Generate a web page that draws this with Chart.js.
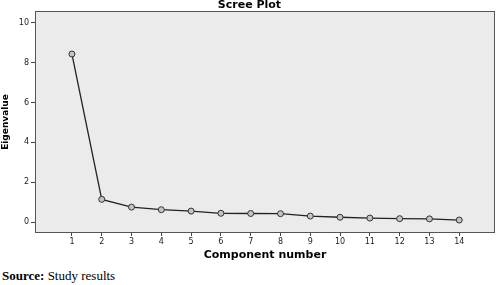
<!DOCTYPE html>
<html>
<head>
<meta charset="utf-8">
<script src="https://cdn.jsdelivr.net/npm/chart.js@4.4.0/dist/chart.umd.min.js"></script>
<style>
  body { margin: 0; background: #fff; }
  #wrap { width: 500px; height: 262px; position: relative; }
  #source { font-family: "Liberation Serif", "DejaVu Serif", serif; font-size: 13px; margin: 6px 0 0 2px; color: #000; }
</style>
</head>
<body>
<div id="wrap"><canvas id="scree"></canvas></div>
<div id="source"><b>Source:</b> Study results</div>
<script>
// component numbers and eigenvalues
const components = [1, 2, 3, 4, 5, 6, 7, 8, 9, 10, 11, 12, 13, 14];
const eigenvalues = [8.44, 1.14, 0.75, 0.62, 0.55, 0.44, 0.43, 0.42, 0.30, 0.24, 0.20, 0.17, 0.16, 0.10];
const yTicks = [0, 2, 4, 6, 8, 10];

const plotFrame = {
  id: 'plotFrame',
  beforeDraw(chart) {
    const { ctx, chartArea: a } = chart;
    ctx.save();
    ctx.fillStyle = '#ebebeb';
    ctx.fillRect(a.left, a.top, a.right - a.left, a.bottom - a.top);
    ctx.restore();
  },
  afterDraw(chart) {
    const { ctx, chartArea: a } = chart;
    ctx.save();
    ctx.strokeStyle = '#555';
    ctx.lineWidth = 1;
    ctx.strokeRect(a.left + 0.5, a.top + 0.5, a.right - a.left - 1, a.bottom - a.top - 1);
    ctx.restore();
  }
};

const font = { family: 'DejaVu Sans', size: 8 };

new Chart(document.getElementById('scree').getContext('2d'), {
  type: 'line',
  data: {
    datasets: [{
      data: components.map((c, i) => ({ x: c, y: eigenvalues[i] })),
      borderColor: '#222',
      borderWidth: 1.3,
      pointRadius: 3,
      pointBorderWidth: 1,
      pointBorderColor: '#333',
      pointBackgroundColor: '#c4c4c4',
      tension: 0
    }]
  },
  options: {
    responsive: true,
    maintainAspectRatio: false,
    animation: false,
    layout: { padding: { left: 0, right: 1, top: 0, bottom: 0 } },
    plugins: {
      legend: { display: false },
      tooltip: { enabled: false },
      title: {
        display: true,
        text: 'Scree Plot',
        color: '#000',
        font: { family: 'DejaVu Sans', size: 11, weight: 'bold', lineHeight: 1.0 },
        padding: { top: 0, bottom: 0 }
      }
    },
    scales: {
      x: {
        type: 'linear',
        min: -0.24,
        max: 15.2,
        afterBuildTicks: axis => { axis.ticks = components.map(v => ({ value: v })); },
        afterFit: axis => { axis.height = 29; },
        grid: { drawOnChartArea: false, drawTicks: true, tickLength: 3, color: '#444' },
        border: { display: false },
        ticks: { color: '#222', font, padding: 1, maxRotation: 0, autoSkip: false },
        title: {
          display: true,
          text: 'Component number',
          color: '#000',
          font: { family: 'DejaVu Sans', size: 11, weight: 'bold' },
          padding: { top: 0, bottom: 0 }
        }
      },
      y: {
        min: -0.55,
        max: 10.6,
        afterBuildTicks: axis => { axis.ticks = yTicks.map(v => ({ value: v })); },
        afterFit: axis => { axis.width = 35; },
        grid: { drawOnChartArea: false, drawTicks: true, tickLength: 4, color: '#444' },
        border: { display: false },
        ticks: { color: '#222', font, padding: 2 },
        title: {
          display: true,
          text: 'Eigenvalue',
          color: '#000',
          font: { family: 'DejaVu Sans', size: 9, weight: 'bold' },
          padding: { top: 0, bottom: 0 }
        }
      }
    }
  },
  plugins: [plotFrame]
});
</script>
</body>
</html>
